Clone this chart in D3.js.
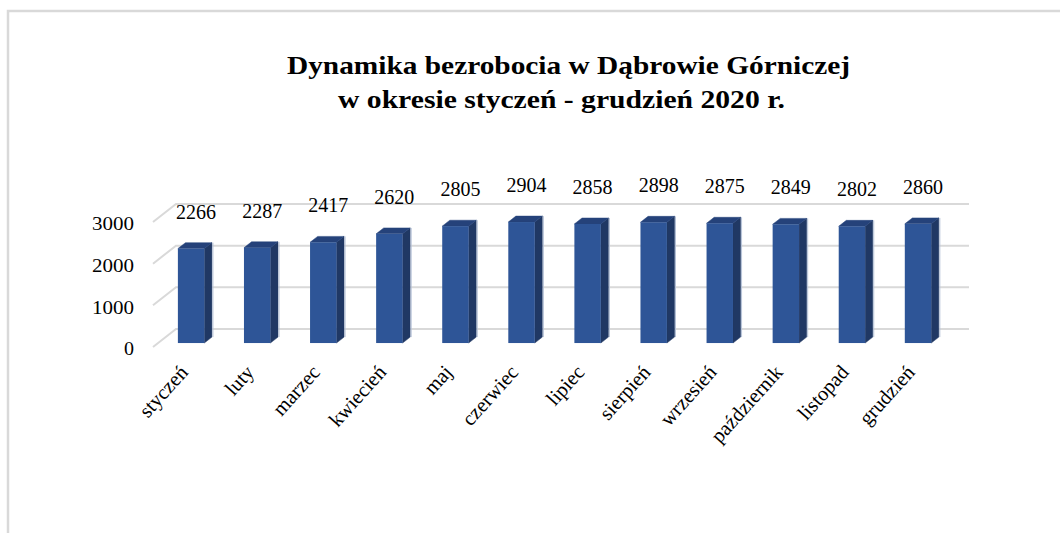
<!DOCTYPE html>
<html>
<head>
<meta charset="utf-8">
<script src="https://cdn.jsdelivr.net/npm/d3@7"></script>
<style>
  html, body { margin: 0; padding: 0; background: #fff; }
  svg { display: block; }
</style>
</head>
<body>
<svg id="chart" width="1060" height="533"></svg>
<script>
const months = ["styczeń","luty","marzec","kwiecień","maj","czerwiec","lipiec","sierpień","wrzesień","październik","listopad","grudzień"];
const values = [2266, 2287, 2417, 2620, 2805, 2904, 2858, 2898, 2875, 2849, 2802, 2860];
const yTicks = [0, 1000, 2000, 3000];
const titleLines = ["Dynamika bezrobocia w Dąbrowie Górniczej", "w okresie styczeń - grudzień 2020 r."];

const svg = d3.select("#chart");
const serif = "'Liberation Serif', 'Times New Roman', serif";

// outer frame
svg.append("rect").attr("x", 8).attr("y", 11).attr("width", 1200).attr("height", 700)
  .attr("fill", "none").attr("stroke", "#d9d9d9").attr("stroke-width", 2.5);

// title
const titleY = [74, 108], titleX = [568.5, 561.5], titleW = [563, 447];
titleLines.forEach((t, i) => {
  svg.append("text").attr("x", titleX[i]).attr("y", titleY[i])
    .attr("text-anchor", "middle").attr("font-family", serif)
    .attr("font-weight", "bold").attr("font-size", 25)
    .attr("textLength", titleW[i]).attr("lengthAdjust", "spacingAndGlyphs")
    .attr("fill", "#000").text(t);
});

// 3D projection
const DX = 23, DY = 18;
const x = d3.scaleBand().domain(months).range([153, 946]).paddingInner(0.6).paddingOuter(0.3);
const y = d3.scaleLinear().domain([0, 3000]).range([347, 222]);
const proj = (px, v, z) => [px + z * DX, y(v) - z * DY];

// back wall gridlines + side diagonals
const g = svg.append("g");
yTicks.forEach(v => {
  const a = proj(153, v, 0), b = proj(153, v, 1), c = proj(946, v, 1);
  g.append("path").attr("d", `M${a[0]},${a[1]}L${b[0]},${b[1]}L${c[0]},${c[1]}`)
    .attr("fill", "none").attr("stroke", "#d9d9d9").attr("stroke-width", 2);
});

// y axis labels
const yAxis = d3.axisLeft(y).tickValues(yTicks).tickSize(0).tickPadding(0).tickFormat(d3.format("d"));
const ya = svg.append("g").attr("transform", "translate(134,2)").call(yAxis);
ya.select(".domain").remove();
ya.selectAll("text").attr("font-family", serif).attr("font-size", 18).attr("fill", "#000")
  .attr("textLength", d => d === 0 ? 10 : 42).attr("lengthAdjust", "spacingAndGlyphs");

// bars
const z0 = 0.22, z1 = 0.55;
const bars = svg.append("g");
months.forEach((m, i) => {
  const v = values[i];
  const x0 = x(m), x1 = x(m) + x.bandwidth();
  const P = (px, vv, z) => proj(px, vv, z).join(",");
  // side
  bars.append("polygon")
    .attr("points", [P(x1, 0, z0), P(x1, 0, z1), P(x1, v, z1), P(x1, v, z0)].join(" "))
    .attr("fill", "#203864").attr("stroke", "#203864").attr("stroke-width", 0.5);
  // top
  bars.append("polygon")
    .attr("points", [P(x0, v, z0), P(x1, v, z0), P(x1, v, z1), P(x0, v, z1)].join(" "))
    .attr("fill", "#25427a").attr("stroke", "#25427a").attr("stroke-width", 0.5);
  // front
  const f0 = proj(x0, v, z0), f1 = proj(x1, 0, z0);
  bars.append("rect").attr("x", f0[0]).attr("y", f0[1])
    .attr("width", f1[0] - f0[0]).attr("height", f1[1] - f0[1])
    .attr("fill", "#2e5597");
  // light edge on the right of side
  const e0 = proj(x1, 0, z1), e1 = proj(x1, v, z1);
  bars.append("line").attr("x1", e0[0] + 1).attr("y1", e0[1]).attr("x2", e1[0] + 1).attr("y2", e1[1])
    .attr("stroke", "#b4c0d6").attr("stroke-width", 1);
  // data label
  const t = proj(x0 + x.bandwidth() / 2, v, z0);
  svg.append("text").attr("x", t[0] + 5).attr("y", t[1] - 30)
    .attr("text-anchor", "middle").attr("font-family", serif).attr("font-size", 20)
    .attr("fill", "#000").text(d3.format("d")(v));
});

// category labels
months.forEach(m => {
  const cx = x(m) + x.bandwidth() / 2 + 3;
  svg.append("text").attr("transform", `translate(${cx},373) rotate(-48)`)
    .attr("text-anchor", "end").attr("font-family", serif).attr("font-size", 20.5)
    .attr("fill", "#000").text(m);
});
</script>
</body>
</html>
